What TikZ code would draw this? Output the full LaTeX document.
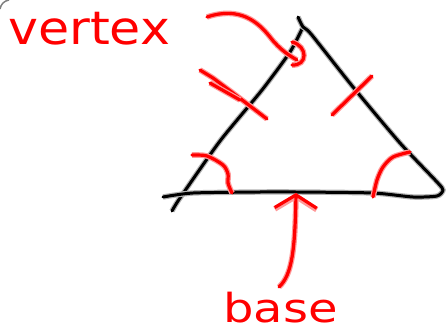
\documentclass[tikz,border=0pt]{standalone}
\usepackage{fontspec}
\newfontfamily\handfont{DejaVu Sans}
\usetikzlibrary{arrows.meta}
\begin{document}
\begin{tikzpicture}[
        x=1pt,y=-1pt,
        pen/.style={
            black,line width=3pt,line cap=round,line join=round,
            preaction={draw=gray!60,line width=5.4pt}
        },
        ink/.style={
            red,line width=3.2pt,line cap=round,line join=round,
            preaction={draw=red!40,line width=5.6pt}
        },
        every node/.style={
            text=red,inner sep=0pt,font=\handfont
        }
    ]
    \useasboundingbox (0,0) rectangle (446,334);
% Corner
    \draw[gray,line width=1.5pt] (0,9) .. controls (1,4) and (4,1) .. (9,0);
% Triangle
    \coordinate (bl) at (172,211);
    \coordinate (apex) at (302,29);
    \coordinate (top) at (298,17);
    \coordinate (br) at (163,197);
    \draw[pen] plot[smooth,tension=0.4] coordinates {(bl) (180,198) (220,141) (262,90) (290,52) (apex)};
    \draw[pen] plot[smooth,tension=0.4] coordinates {(top) (303,27) (311,34) (353,87) (400,143) (437,182) (443,190) (437,196) (413,197) (373,193) (296,192) (260,192) (193,193) (br)};
% Ticks
    \draw[ink] (200,70) -- (213,78) -- (233,93) -- (267,119);
    \draw[ink] (210,83) -- (240,100);
    \draw[ink] (332,115) -- (372,76);
% Angles
    \draw[ink] plot[smooth] coordinates {(192,155) (207,156) (223,165) (228,174) (228,183) (232,193)};
    \draw[ink] plot[smooth] coordinates {(373,197) (377,180) (383,167) (393,157) (410,152)};
% Labels
    \node[anchor=base west] (vertex) at (8,45) {\fontsize{46}{46}\selectfont\scalebox{1.1}[1]{vertex}};
    \node[anchor=base west] (base) at (223,322) {\fontsize{40}{40}\selectfont\scalebox{1.2}[1]{base}};
% Arrows
    \coordinate (vtail) at (207,17);
    \coordinate (vtip) at (297,60);
    \coordinate (btail) at (279,287);
    \coordinate (bhead) at (296,193);
    \draw[ink] (vtail) .. controls (240,6) and (258,22) .. (270,37) .. controls (280,50) and (290,56) .. (vtip);
    \draw[ink] (292,42) .. controls (308,46) and (308,66) .. (292,65);
    \draw[ink,-{Straight Barb[length=13pt,width=42pt]}] (btail) .. controls (292,275) and (295,250) .. (bhead);
\end{tikzpicture}
\end{document}
